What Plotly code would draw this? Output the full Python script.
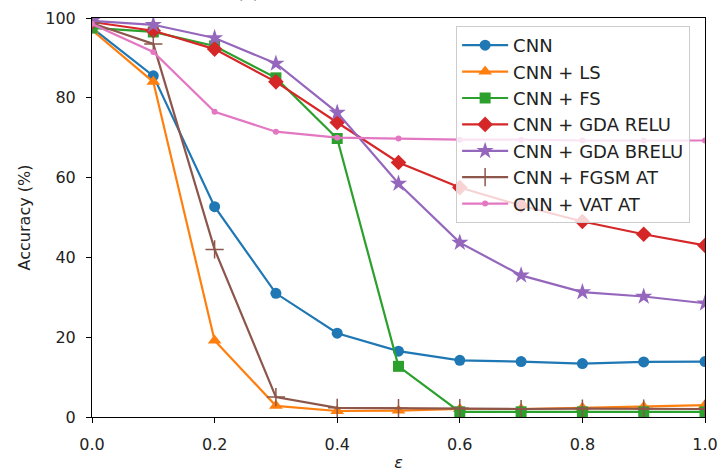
import plotly.graph_objects as go

eps = [0.0, 0.1, 0.2, 0.3, 0.4, 0.5, 0.6, 0.7, 0.8, 0.9, 1.0]

cnn = [97.5, 85.5, 52.7, 31.0, 21.0, 16.5, 14.2, 13.9, 13.4, 13.8, 13.9]
cnn_ls = [97.0, 84.0, 19.2, 2.8, 1.5, 1.6, 2.0, 2.0, 2.3, 2.6, 3.0]
cnn_fs = [97.5, 96.5, 93.0, 85.0, 69.8, 12.7, 1.3, 1.3, 1.3, 1.3, 1.3]
cnn_gda_relu = [99.0, 96.8, 92.2, 84.0, 73.8, 63.8, 57.5, 53.0, 49.0, 45.8, 43.0]
cnn_gda_brelu = [99.3, 98.3, 95.0, 88.6, 76.3, 58.5, 43.7, 35.5, 31.3, 30.2, 28.5]
cnn_fgsm = [98.7, 93.5, 42.0, 5.0, 2.3, 2.2, 2.2, 2.0, 2.1, 2.1, 2.0]
cnn_vat = [98.5, 91.5, 76.5, 71.5, 70.0, 69.8, 69.5, 69.5, 69.3, 69.3, 69.3]

names = ["CNN", "CNN + LS", "CNN + FS", "CNN + GDA RELU", "CNN + GDA BRELU",
         "CNN + FGSM AT", "CNN + VAT AT"]
series = [cnn, cnn_ls, cnn_fs, cnn_gda_relu, cnn_gda_brelu, cnn_fgsm, cnn_vat]
colors = ["#1f77b4", "#ff7f0e", "#2ca02c", "#d62728", "#9467bd", "#8c564b", "#e377c2"]
symbols = ["circle", "triangle-up", "square", "diamond", "star", "cross-thin", "circle"]
sizes = [11, 12, 11, 12, 13, 13, 6]

fig = go.Figure()
for name, ys, c, s, sz in zip(names, series, colors, symbols, sizes):
    mk = dict(symbol=s, size=sz, color=c)
    if s == "cross-thin":
        mk["line"] = dict(color=c, width=1.5)
    fig.add_trace(go.Scatter(x=eps, y=ys, mode="lines+markers", name=name,
                             line=dict(color=c, width=2.2), marker=mk))

axis_common = dict(showgrid=False, zeroline=False, showline=True, mirror=True,
                   linecolor="black", linewidth=1, ticks="outside", ticklen=5,
                   tickcolor="black", automargin=False,
                   tickfont=dict(family="DejaVu Sans", size=16, color="#222"))

fig.update_xaxes(range=[0, 1], tickvals=[0, 0.2, 0.4, 0.6, 0.8, 1.0],
                 ticktext=["0.0", "0.2", "0.4", "0.6", "0.8", "1.0"],
                 ticklabelstandoff=8,
                 title=dict(text="<i>ε</i>", font=dict(family="DejaVu Sans", size=16, color="#222"), standoff=4),
                 **axis_common)
fig.update_yaxes(range=[0, 100], tickvals=[0, 20, 40, 60, 80, 100],
                 ticklabelstandoff=7,
                 title=dict(text="Accuracy (%)", font=dict(family="DejaVu Sans", size=16, color="#222"), standoff=10),
                 **axis_common)

fig.update_layout(
    width=718, height=472,
    margin=dict(l=92, r=13, t=18, b=55, autoexpand=False),
    plot_bgcolor="white", paper_bgcolor="white",
    hovermode=False,
    font=dict(family="DejaVu Sans", size=16, color="#222"),
    legend=dict(x=0.594, y=0.98, xanchor="left", yanchor="top",
                bgcolor="rgba(255,255,255,0.8)", bordercolor="#cccccc", borderwidth=1,
                font=dict(family="DejaVu Sans", size=18, color="#222"),
                tracegroupgap=0, itemwidth=46),
    annotations=[dict(text="(a)", xref="paper", yref="paper", x=0.255, y=1.035,
                      xanchor="center", yanchor="bottom", showarrow=False,
                      font=dict(family="DejaVu Sans", size=16, color="#222"))],
)

fig.write_html("out.html", config={"displayModeBar": False},
               post_script="document.body.style.margin='0';")
